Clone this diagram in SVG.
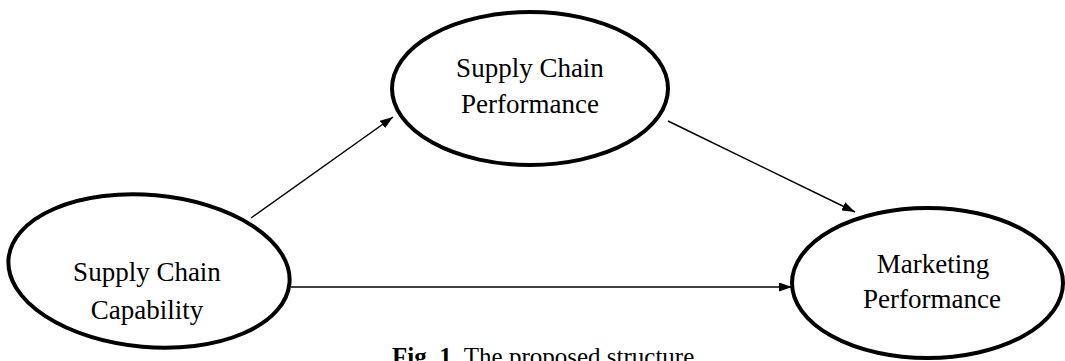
<svg xmlns="http://www.w3.org/2000/svg" width="1065" height="361" viewBox="0 0 1065 361">
  <defs>
    <marker id="arrow" viewBox="0 0 13 9" refX="13" refY="4.5" markerWidth="13" markerHeight="9" markerUnits="userSpaceOnUse" orient="auto">
      <path d="M0,0 L13,4.5 L0,9 Z" fill="#000"/>
    </marker>
    <style>
      .node ellipse { fill: #fff; stroke: #000; stroke-width: 4; }
      .node text, .caption { font-family: "Liberation Serif", "Times New Roman", serif; fill: #000; }
      .node text { font-size: 27px; text-anchor: middle; }
      .edge { stroke: #000; stroke-width: 1.5; fill: none; marker-end: url(#arrow); }
      .caption { font-size: 25px; }
    </style>
  </defs>
  <rect width="1065" height="361" fill="#fff"/>

  <!-- connectors -->
  <g id="connectors">
    <line class="edge" x1="251" y1="218" x2="393" y2="117"/>
    <line class="edge" x1="668" y1="121" x2="855" y2="212"/>
    <line class="edge" x1="291" y1="287" x2="792" y2="287"/>
  </g>

  <g id="node-capability" class="node">
    <ellipse cx="149" cy="271" rx="141" ry="76" transform="rotate(5 149 271)"/>
    <text x="147" y="281">Supply Chain</text>
    <text x="147" y="319">Capability</text>
  </g>

  <g id="node-sc-performance" class="node">
    <ellipse cx="530" cy="88.5" rx="138" ry="76.5"/>
    <text x="530" y="77">Supply Chain</text>
    <text x="530" y="113">Performance</text>
  </g>

  <g id="node-marketing" class="node">
    <ellipse cx="927.5" cy="283" rx="135.5" ry="75"/>
    <text x="933" y="273">Marketing</text>
    <text x="932" y="308">Performance</text>
  </g>

  <text class="caption" x="392" y="365"><tspan font-weight="bold">Fig. 1</tspan><tspan xml:space="preserve">  The proposed structure</tspan></text>
</svg>
